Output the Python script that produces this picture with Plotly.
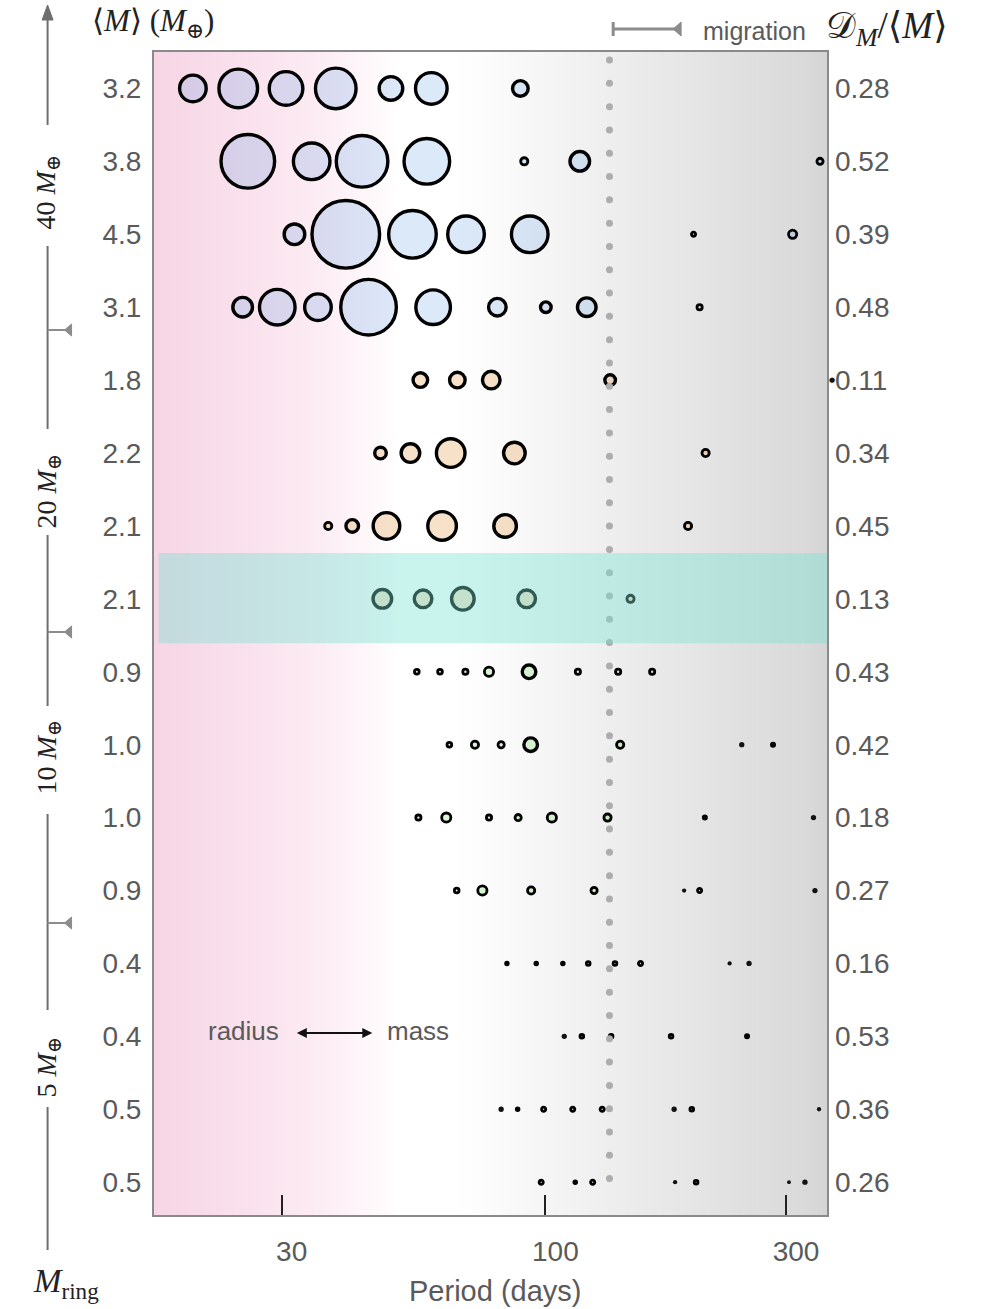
import numpy as np
import plotly.graph_objects as go

# ---------------- data ----------------
mean_mass = ["3.2", "3.8", "4.5", "3.1", "1.8", "2.2", "2.1", "2.1",
             "0.9", "1.0", "1.0", "0.9", "0.4", "0.4", "0.5", "0.5"]
mass_dispersion = ["0.28", "0.52", "0.39", "0.48", "0.11", "0.34", "0.45", "0.13",
                   "0.43", "0.42", "0.18", "0.27", "0.16", "0.53", "0.36", "0.26"]
ring_mass_labels = ["40", "20", "10", "5"]
period_ticks = [30, 100, 300]
migration_period = 134

periods = [
    [20.0, 24.6, 30.6, 38.4, 49.4, 59.4, 89.2],
    [25.7, 34.4, 43.3, 58.2, 90.8, 117.0, 350.4],
    [31.8, 40.2, 54.5, 69.6, 93.1, 196.7, 309.2],
    [25.1, 29.4, 35.4, 44.6, 59.9, 80.3, 100.2, 120.8, 202.2],
    [56.5, 66.9, 78.1, 134.4, 370.1],
    [47.1, 54.0, 64.9, 86.8, 207.8],
    [37.1, 41.4, 48.4, 62.4, 83.2, 191.8],
    [47.5, 57.2, 68.6, 91.8, 147.5],
    [55.6, 61.8, 69.4, 77.3, 92.8, 116.0, 139.4, 162.8],
    [64.5, 72.5, 81.7, 93.5, 140.7, 245.1, 282.7],
    [56.0, 63.6, 77.3, 88.3, 103.0, 132.8, 207.1, 340.1],
    [66.7, 75.0, 93.7, 124.9, 188.4, 202.2, 342.4],
    [83.9, 95.9, 108.3, 121.6, 137.4, 154.4, 231.9, 253.4],
    [109.0, 118.1, 135.0, 177.5, 251.1],
    [81.7, 88.1, 99.2, 113.3, 129.6, 180.0, 195.1, 348.8],
    [98.1, 114.6, 124.1, 180.8, 199.0, 304.1, 327.1],
]
planet_size = [
    [30, 42, 37, 44, 27, 35, 19],
    [57, 40, 55, 49, 10, 23, 9],
    [24, 71, 51, 40, 40, 7, 11],
    [23, 39, 30, 59, 38, 21, 14, 22, 8],
    [18, 19, 21, 14, 4],
    [15, 22, 32, 25, 10],
    [10, 16, 30, 32, 26, 10],
    [22, 21, 26, 21, 10],
    [7.5, 7.5, 8, 12, 17, 8, 8, 8],
    [7.5, 10, 9, 17, 10, 5, 6],
    [8, 12, 8, 9, 12, 10, 6, 5],
    [7.5, 12, 10, 9, 4, 7, 5],
    [5.5, 5.5, 5.5, 6.5, 6.5, 7, 4, 5],
    [5, 6.5, 6.5, 6.5, 6],
    [5, 5.5, 7, 7, 7, 5, 6.5, 4],
    [7, 5.5, 7, 4, 6.5, 3.5, 5],
]
row_group = ["ice"] * 4 + ["warm"] * 4 + ["rocky"] * 8
highlight_row = 7

# ---------------- styles ----------------
group_fill = {
    "ice": "rgba(80,145,225,0.20)",
    "warm": "rgba(225,140,40,0.25)",
    "rocky": "rgba(100,220,80,0.24)",
}
W, H = 990, 1309
L, R, T, B = 153.5, 827.0, 52.0, 1215.0
PW, PH = R - L, B - T
X_RANGE = [1.2239, 2.5584]
GREY_TXT = "#5a5a5a"
SANS = "Liberation Sans, Arial, sans-serif"
SERIF = "Liberation Serif, DejaVu Serif, serif"


def px(xp):
    return (xp - L) / PW


def py(yp):
    return (B - yp) / PH


fig = go.Figure()
ann = []

for i, (ps, ss) in enumerate(zip(periods, planet_size)):
    lw, msz, fill = [], [], []
    for p, s in zip(ps, ss):
        if s < 5.2:          # tiny planets: solid dots
            lw.append(0)
            msz.append(s + 0.3)
            fill.append("#111111")
        else:
            w = 3.4 if s >= 14 else 2.8
            lw.append(w)
            msz.append(max(s - w, 1.0))
            fill.append(group_fill[row_group[i]])
        if np.log10(p) > X_RANGE[1]:
            # planet just beyond the axis range: plotly hides it, so draw a glyph
            xfrac = (np.log10(p) - X_RANGE[0]) / (X_RANGE[1] - X_RANGE[0])
            ann.append(dict(text="●", x=xfrac, y=i, xref="paper", yref="y",
                            showarrow=False, xanchor="center", yanchor="middle",
                            font=dict(family="DejaVu Sans", size=7, color="#111")))
    fig.add_trace(go.Scatter(
        x=ps, y=[i] * len(ps), mode="markers", cliponaxis=False,
        marker=dict(size=msz, color=fill, opacity=1,
                    line=dict(color="#000000", width=lw)),
        showlegend=False, hoverinfo="skip"))

# dotted migration line (drawn above planets)
dot_y = np.arange(-0.39, 15.25, 0.3196)
fig.add_trace(go.Scatter(
    x=[migration_period] * len(dot_y), y=dot_y, mode="markers",
    marker=dict(size=7, color="#adadad"), showlegend=False, hoverinfo="skip"))

# right-hand labels axis helper trace
fig.add_trace(go.Scatter(x=[migration_period], y=[0], yaxis="y2", mode="markers",
                         marker=dict(opacity=0), showlegend=False, hoverinfo="skip"))

shapes = []
# background gradient
stops = [(153, (247, 213, 229)), (200, (248, 219, 233)), (260, (250, 227, 238)),
         (320, (252, 236, 244)), (375, (254, 249, 251)), (400, (255, 255, 255)),
         (455, (255, 255, 255)), (506, (250, 250, 250)), (585, (241, 241, 241)),
         (630, (236, 236, 236)), (715, (227, 227, 227)), (800, (218, 218, 218)),
         (828, (212, 212, 212))]
sx = np.array([s[0] for s in stops], float)
sc = np.array([s[1] for s in stops], float)
n = 150
edges = np.linspace(L, R, n + 1)
for k in range(n):
    mid = 0.5 * (edges[k] + edges[k + 1])
    c = [int(round(np.interp(mid, sx, sc[:, j]))) for j in range(3)]
    shapes.append(dict(type="rect", xref="paper", yref="paper", layer="below",
                       x0=px(edges[k]), x1=min(px(edges[k + 1]) + 0.002, 1),
                       y0=0, y1=1, line=dict(width=0),
                       fillcolor=f"rgb({c[0]},{c[1]},{c[2]})"))
# highlighted band
shapes.append(dict(type="rect", xref="paper", yref="y", layer="above",
                   x0=px(158), x1=1, y0=highlight_row - 0.63, y1=highlight_row + 0.61,
                   line=dict(width=0), fillcolor="rgba(120,225,210,0.40)"))

AX = "#6e6e6e"
# left M_ring axis segments
for (a, b) in [(1250, 1107), (1010, 814), (706, 535), (429, 246), (125, 16)]:
    shapes.append(dict(type="line", xref="paper", yref="paper",
                       x0=px(47), x1=px(47), y0=py(a), y1=py(b),
                       line=dict(color=AX, width=2)))
shapes.append(dict(type="path", xref="paper", yref="paper", fillcolor=AX,
                   line=dict(color=AX, width=1),
                   path=f"M {px(47)},{py(5)} L {px(41.5)},{py(20)} L {px(52.5)},{py(20)} Z"))
MIG = "#8c8c8c"
for yt in [330, 632, 923]:
    shapes.append(dict(type="line", xref="paper", yref="paper",
                       x0=px(47), x1=px(70), y0=py(yt), y1=py(yt),
                       line=dict(color=MIG, width=2)))
    shapes.append(dict(type="path", xref="paper", yref="paper", fillcolor=MIG,
                       line=dict(color=MIG, width=1),
                       path=f"M {px(71)},{py(yt-6)} L {px(71)},{py(yt+6)} L {px(64)},{py(yt)} Z"))
# migration scale bar at top
shapes.append(dict(type="line", xref="paper", yref="paper",
                   x0=px(612), x1=px(678), y0=py(29), y1=py(29),
                   line=dict(color=MIG, width=3)))
shapes.append(dict(type="line", xref="paper", yref="paper",
                   x0=px(613), x1=px(613), y0=py(22), y1=py(36),
                   line=dict(color=MIG, width=3)))
shapes.append(dict(type="path", xref="paper", yref="paper", fillcolor=MIG,
                   line=dict(color=MIG, width=1),
                   path=f"M {px(681)},{py(22)} L {px(681)},{py(36)} L {px(673)},{py(29)} Z"))

ann.append(dict(text="⟨<i>M</i>⟩ (<i>M</i><sub>⊕</sub>)", x=px(89), y=py(23),
                xanchor="left", yanchor="middle",
                font=dict(family=SERIF, size=31, color="#222")))
ann.append(dict(text="𝒟<sub><i>M</i></sub>/⟨<i>M</i>⟩", x=px(824), y=py(29),
                xanchor="left", yanchor="middle",
                font=dict(family=SERIF, size=37, color="#222")))
ann.append(dict(text="migration", x=px(701), y=py(31), xanchor="left", yanchor="middle",
                font=dict(family=SANS, size=25, color=GREY_TXT)))
for lab, yc in zip(ring_mass_labels, [192, 491, 757, 1067]):
    ann.append(dict(text=f"{lab} <i>M</i><sub>⊕</sub>", x=px(47), y=py(yc),
                    xanchor="center", yanchor="middle", textangle=-90,
                    font=dict(family=SERIF, size=28, color="#222")))
ann.append(dict(text="<i>M</i><sub>ring</sub>", x=px(65), y=py(1283),
                xanchor="center", yanchor="middle",
                font=dict(family=SERIF, size=33, color="#222")))
ann.append(dict(text="Period (days)", x=px(495), y=py(1291), xanchor="center",
                yanchor="middle", font=dict(family=SANS, size=29, color=GREY_TXT)))
ann.append(dict(text="radius", x=px(281), y=py(1031), xanchor="right", yanchor="middle",
                font=dict(family=SANS, size=26, color=GREY_TXT)))
ann.append(dict(text="mass", x=px(385), y=py(1031), xanchor="left", yanchor="middle",
                font=dict(family=SANS, size=26, color=GREY_TXT)))
ann.append(dict(text="", x=px(372), y=py(1033), ax=-77, ay=0, showarrow=True,
                arrowside="end+start", arrowhead=2, arrowsize=1, arrowwidth=2,
                arrowcolor="#111"))
for a in ann:
    a.setdefault("xref", "paper")
    a.setdefault("yref", "paper")
    a.setdefault("showarrow", False)

rows = list(range(len(mean_mass)))
yr = [15.45, -0.50]
fig.update_layout(
    width=W, height=H,
    margin=dict(l=L, r=W - R, t=T, b=H - B, pad=0),
    paper_bgcolor="white", plot_bgcolor="white",
    shapes=shapes, annotations=ann, showlegend=False,
    xaxis=dict(type="log", range=X_RANGE, tickvals=period_ticks,
               ticktext=[str(v) for v in period_ticks],
               ticks="inside", ticklen=20, tickwidth=2, tickcolor="#222",
               ticklabelshift=10, ticklabelstandoff=10,
               tickfont=dict(family=SANS, size=28, color=GREY_TXT),
               showgrid=False, zeroline=False, showline=True, mirror=True,
               linecolor="#8a8a8a", linewidth=2),
    yaxis=dict(range=yr, tickvals=rows, ticktext=mean_mass, ticks="",
               ticklabelstandoff=5,
               tickfont=dict(family=SANS, size=28, color=GREY_TXT),
               showgrid=False, zeroline=False, showline=True, mirror=True,
               linecolor="#8a8a8a", linewidth=2),
    yaxis2=dict(range=yr, overlaying="y", side="right", tickvals=rows,
                ticktext=mass_dispersion, ticks="", ticklabelstandoff=7,
                tickfont=dict(family=SANS, size=28, color=GREY_TXT),
                showgrid=False, zeroline=False, showline=False),
)

fig.write_html("out.html")
